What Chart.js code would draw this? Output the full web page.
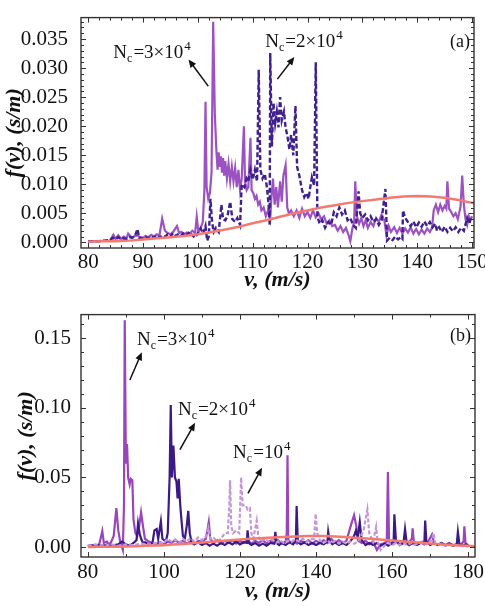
<!DOCTYPE html>
<html>
<head>
<meta charset="utf-8">
<script src="https://cdn.jsdelivr.net/npm/chart.js@4.4.1/dist/chart.umd.min.js"></script>
<style>
html, body { margin: 0; padding: 0; background: #fff; }
#wrap { position: relative; width: 485px; height: 606px; }
canvas { position: absolute; left: 0; }
</style>
</head>
<body>
<div id="wrap">
<canvas id="panelA" width="485" height="300" style="top:0"></canvas>
<canvas id="panelB" width="485" height="306" style="top:300px"></canvas>
</div>
<script>
// panel (a): [v, f(v)]
const topN3 = [
  [80,0.0002],[82,0.0002],[84,0.0003],[84.6,0.0013],[85,0.0006],[85.5,0.0012],[86,0.0006],[86.5,0.001],
  [87,0.0007],[87.3,0.0015],[88,0.0008],[88.5,0.0011],[89,0.0012],[89.5,0.0009],[90,0.0008],[90.5,0.0011],
  [91,0.0009],[91.5,0.0013],[92,0.001],[92.5,0.0014],[93,0.0012],[93.5,0.0041],[94,0.002],[94.5,0.0016],
  [95,0.0014],[95.5,0.0018],[96.2,0.0028],[96.6,0.0016],[97,0.0018],[97.5,0.0014],[98,0.0017],[98.5,0.0015],
  [99,0.002],[99.5,0.0016],[99.8,0.0044],[100.1,0.0018],[100.5,0.0024],[100.9,0.0035],[101.2,0.009],
  [101.4,0.0242],[101.6,0.0095],[101.9,0.0075],[102.2,0.0085],[102.5,0.012],[102.8,0.038],[103.1,0.022],
  [103.4,0.0155],[103.6,0.0125],[103.8,0.0155],[104,0.013],[104.2,0.0148],[104.4,0.012],[104.6,0.0145],
  [104.8,0.0115],[105,0.014],[105.3,0.011],[105.6,0.0135],[105.9,0.0105],[106.2,0.013],[106.5,0.0105],
  [106.8,0.0128],[107.1,0.0095],[107.4,0.0125],[107.7,0.009],[108,0.011],[108.4,0.02],[108.6,0.0105],
  [108.9,0.009],[109.2,0.0095],[109.6,0.018],[109.8,0.009],[110.1,0.0085],[110.4,0.0075],[110.7,0.008],
  [111,0.0065],[111.3,0.007],[111.6,0.0055],[112,0.006],[112.4,0.0045],[112.8,0.0055],[113.2,0.004],
  [113.4,0.0075],[113.7,0.011],[114,0.0065],[114.3,0.0095],[114.6,0.006],[115,0.0105],[115.3,0.007],
  [115.6,0.0115],[116,0.0133],[116.3,0.006],[116.6,0.005],[117,0.0055],[117.5,0.0045],[118,0.0055],
  [118.5,0.0042],[119,0.0058],[119.5,0.0045],[120,0.0052],[120.5,0.0042],[121,0.0055],[121.5,0.0043],
  [122,0.005],[122.5,0.004],[123,0.0045],[123.5,0.0032],[124,0.0038],[124.5,0.0028],[125,0.003],
  [125.5,0.002],[126,0.0028],[126.5,0.0018],[127,0.0025],[127.5,0.0012],[127.8,0.0002],[128.2,0.0025],
  [128.5,0.0035],[128.7,0.0105],[129,0.0045],[129.4,0.0032],[129.8,0.0042],[130.2,0.0028],[130.6,0.0038],
  [131,0.0025],[131.5,0.0035],[132,0.0028],[132.5,0.0042],[133,0.0035],[133.5,0.0048],[134,0.0038],
  [134.4,0.0012],[134.8,0.0028],[135.2,0.0018],[135.8,0.0026],[136.3,0.0016],[136.8,0.0025],[137.3,0.0015],
  [137.8,0.0024],[138.3,0.0017],[138.8,0.0026],[139.3,0.0015],[139.8,0.0023],[140.3,0.0014],[140.8,0.0022],
  [141.3,0.0015],[141.8,0.0024],[142.3,0.0018],[142.7,0.0025],[143,0.0055],[143.4,0.0065],[143.8,0.0052],
  [144.2,0.0065],[144.6,0.0055],[145,0.0063],[145.3,0.0058],[145.5,0.0105],[145.8,0.0058],[146.2,0.0052],
  [146.6,0.0045],[147,0.005],[147.4,0.004],[147.9,0.0062],[148.2,0.0115],[148.5,0.0065],[148.8,0.004],
  [149.1,0.003],[149.4,0.0045],[149.7,0.0038],[150,0.0045]
];

const topN2 = [
  [80,0.0001],[81,0.0002],[82,0.0002],[83,0.0003],[84,0.0004],[84.5,0.0008],[85,0.0005],[85.5,0.0009],
  [86,0.0005],[86.5,0.0007],[87,0.0006],[87.5,0.0009],[88,0.0008],[88.5,0.001],[89,0.0023],[89.3,0.0008],
  [90,0.0006],[90.5,0.0009],[91,0.0007],[91.5,0.0011],[92,0.0008],[92.5,0.0012],[93,0.0008],[93.5,0.0012],
  [94,0.001],[94.5,0.0014],[95,0.001],[95.5,0.0016],[96,0.0011],[96.5,0.0015],[97,0.0012],[97.5,0.0017],
  [98,0.0013],[98.5,0.0018],[99,0.0012],[99.5,0.0008],[100,0.0016],[100.5,0.0024],[101,0.0015],
  [101.4,0.0028],[101.7,0.0003],[102,0.001],[102.3,0.0075],[102.6,0.0035],[102.9,0.0018],[103.3,0.0025],
  [103.8,0.0018],[104.3,0.0065],[104.6,0.004],[105,0.0038],[105.4,0.0045],[105.9,0.007],[106.3,0.004],
  [106.8,0.0035],[107.2,0.0042],[107.7,0.003],[108,0.01],[108.5,0.0095],[108.9,0.011],[109.2,0.0105],
  [109.6,0.0125],[110,0.0108],[110.4,0.0125],[110.8,0.0105],[111.1,0.0297],[111.4,0.0125],[111.8,0.011],
  [112.2,0.0118],[112.6,0.0095],[112.9,0.0065],[113.1,0.003],[113.2,0.0326],[113.5,0.0165],[113.8,0.024],
  [114.1,0.0205],[114.4,0.0225],[114.7,0.0198],[115,0.025],[115.3,0.021],[115.7,0.0225],[116,0.0197],
  [116.3,0.0185],[116.7,0.016],[117,0.0185],[117.4,0.015],[117.8,0.0235],[118.1,0.013],[118.5,0.0115],
  [119,0.009],[119.4,0.0078],[119.8,0.0085],[120.2,0.0075],[120.5,0.0095],[120.8,0.0112],[121.2,0.0098],
  [121.5,0.031],[121.8,0.0045],[122.2,0.0032],[122.7,0.0038],[123.2,0.0025],[123.8,0.0035],[124.3,0.003],
  [124.8,0.0052],[125.3,0.0045],[125.8,0.006],[126.3,0.0048],[126.8,0.0055],[127.3,0.0038],[127.8,0.0042],
  [128.3,0.003],[128.8,0.0025],[129.3,0.0088],[129.6,0.005],[130,0.0042],[130.5,0.0048],[131,0.0038],
  [131.5,0.0045],[132,0.0035],[132.5,0.004],[133,0.003],[133.5,0.0038],[134.2,0.0092],[134.5,0.0003],
  [135,0.0008],[135.5,0.0004],[136,0.001],[136.5,0.0005],[137,0.0009],[137.3,0.0006],[137.4,0.0055],
  [137.8,0.0042],[138.3,0.0035],[138.8,0.0028],[139.3,0.0036],[139.8,0.0026],[140.3,0.0034],[140.8,0.0027],
  [141.3,0.0036],[141.8,0.0028],[142.3,0.0035],[142.8,0.0026],[143.3,0.0032],[143.6,0.002],[144,0.0026],
  [144.5,0.0018],[145,0.0027],[145.5,0.0018],[146,0.0025],[146.5,0.0019],[147,0.0026],[147.5,0.0018],
  [148,0.0025],[148.5,0.002],[149.1,0.0042],[149.5,0.0032],[149.8,0.0045]
];

// panel (b)
const botN3 = [
  [80,0.001],[81,0.0015],[82,0.0008],[83,0.002],[83.8,0.0115],[84.2,0.003],[85,0.004],[85.5,0.002],
  [86,0.003],[86.8,0.008],[87.5,0.028],[88,0.012],[88.5,0.004],[89.2,-0.002],[89.5,0.03],[89.7,0.163],
  [90,0.06],[90.3,0.074],[90.6,0.05],[91,0.045],[91.3,0.049],[91.7,0.048],[92,0.02],[92.5,0.01],[93,0.008],
  [93.5,0.015],[94,0.025],[94.5,0.015],[95,0.006],[96,0.004],[97,0.003],[98,0.002],[99,0.0035],[100,0.002],
  [101,0.004],[102,0.003],[103,0.005],[104,0.003],[105,0.0045],[106,0.0025],[107,0.004],[108,0.002],
  [109,0.0045],[110,0.004],[111,0.006],[111.5,0.013],[111.8,0.018],[112.2,0.006],[113,0.003],[114,0.005],
  [115,0.0025],[116,0.0045],[117,0.003],[118,0.005],[119,0.0025],[120,0.0045],[121,0.003],[122,0.005],
  [123,0.0025],[124,0.0045],[125,0.003],[126,0.005],[127,0.0025],[128,0.0045],[129,0.003],[130,0.005],
  [131,0.0025],[132,0.004],[132.3,0.01],[132.5,0.066],[132.7,0.005],[133.5,0.003],[134,0.0045],[135,0.0025],
  [136,0.0045],[137,0.003],[138,0.005],[139,0.0025],[140,0.0045],[141,0.003],[142,0.005],[143,0.003],
  [144,0.006],[145,0.003],[146,0.005],[147,0.003],[148,0.0045],[149.2,0.016],[150,0.023],[150.6,0.015],
  [151,0.005],[152,0.003],[153,0.0045],[154,0.002],[155,0.004],[156,-0.002],[157,0.002],[158,0.003],
  [158.6,0.004],[158.9,0.054],[159.2,0.003],[160,0.002],[161,0.004],[162,0.002],[163,0.0035],[164,0.002],
  [165.2,0.006],[165.4,0.0135],[165.7,0.004],[166.5,0.002],[167.5,0.0035],[168.5,0.002],[169.5,0.004],
  [170.5,0.009],[171,0.003],[172,0.0015],[173,0.003],[174,0.0015],[175,0.003],[176,0.0015],[177,0.002],
  [178,0.0015],[178.8,0.004],[179,0.015],[179.3,0.003],[180,0.001]
];

const botN2 = [
  [80,0.0005],[81,0.0012],[82,0.0008],[83,0.0015],[84,0.001],[85,0.0018],[86,0.001],[87,0.0015],[88,0.002],
  [89,0.004],[90,0.002],[91,0.001],[92,0.003],[92.8,0.005],[93.2,0.017],[93.6,0.01],[94,0.006],[94.5,0.003],
  [95,0.0035],[96,0.002],[97,0.003],[97.5,0.012],[98.1,0.013],[98.5,0.006],[99.2,0.0185],[99.6,0.006],
  [100.5,0.004],[101,0.01],[101.5,0.05],[101.8,0.102],[102.1,0.05],[102.5,0.073],[102.9,0.05],[103.3,0.047],
  [103.6,0.035],[103.9,0.049],[104.3,0.03],[104.6,0.02],[105,0.008],[105.5,0.006],[106,0.015],[106.4,0.026],
  [106.8,0.01],[107.3,0.003],[108,0.002],[109,0.0035],[110,0.0015],[111,0.003],[112,0.001],[113,0.0025],
  [114,0.001],[115,0.003],[116,0.0015],[117,0.0035],[118,0.002],[119,0.004],[120,0.002],[121,0.0035],
  [121.8,0.003],[122,0.012],[122.3,0.003],[123,0.0015],[124,0.003],[125,0.001],[126,0.0025],[127,0.001],
  [128,0.003],[129,0.0025],[129.3,0.011],[129.6,0.003],[130.3,0.0015],[131,0.003],[132,0.0015],[133,0.0035],
  [134,0.002],[134.7,0.005],[134.9,0.0295],[135.2,0.004],[136,0.002],[137,0.0035],[138,0.0015],[139,0.003],
  [140,0.0015],[141,0.003],[142,0.002],[143,0.004],[143.2,0.011],[143.6,0.004],[144.3,0.002],[145,0.0035],
  [146,0.0015],[147,0.003],[148,0.0015],[149,0.004],[150,0.008],[150.5,0.012],[151,0.007],[151.5,0.018],
  [152,0.005],[153,0.0015],[154,0.003],[155,0.0015],[156,0.003],[157,0.001],[158,0.0025],[159,0.001],
  [160.4,0.004],[160.6,0.0235],[161,0.005],[162,0.0015],[163,0.003],[163.4,0.013],[163.8,0.004],
  [164.5,0.0015],[165.5,0.003],[166.5,0.0015],[167.5,0.003],[168.5,0.004],[168.7,0.019],[169,0.004],
  [170,0.0015],[171,0.003],[172,0.0015],[173,0.003],[174,0.001],[175,0.0025],[176,0.001],[177,0.002],
  [177.3,0.011],[177.7,0.002],[178.5,0.001],[179.5,0.002],[180,0.001]
];

const botN1 = [
  [80,0.001],[82,0.002],[84,0.001],[86,0.002],[88,0.001],[90,0.002],[92,0.0015],[94,0.0025],[96,0.002],
  [98,0.003],[100,0.003],[101,0.006],[102,0.004],[103,0.0055],[104,0.003],[105,0.006],[106,0.004],
  [107,0.0065],[108,0.004],[109,0.007],[110,0.005],[111.2,0.008],[111.7,0.0135],[112.2,0.006],[113,0.007],
  [114,0.004],[115,0.006],[116,0.01],[116.8,0.01],[117.2,0.03],[117.4,0.048],[117.7,0.015],[118.2,0.01],
  [119,0.012],[119.8,0.01],[120.3,0.05],[120.7,0.03],[121.5,0.03],[122,0.027],[122.6,0.028],[123,0.01],
  [123.5,0.006],[124.4,0.019],[124.8,0.008],[125.5,0.004],[126.5,0.006],[127.5,0.004],[128.5,0.0055],
  [129.5,0.003],[130.5,0.005],[131.5,0.003],[132.5,0.0045],[133.5,0.0035],[134.5,0.0055],[135.5,0.004],
  [136.5,0.006],[137.5,0.0035],[138.5,0.0055],[139.5,0.006],[139.9,0.024],[140.3,0.01],[141,0.005],
  [142,0.003],[143,0.005],[144,0.0025],[145,0.0045],[146,0.0025],[147,0.004],[148,0.0025],[149,0.004],
  [150,0.0025],[151,0.004],[152.5,0.012],[153.5,0.027],[154,0.01],[155,0.004],[155.8,0.0145],[156.2,0.004],
  [157,-0.002],[158,0.001],[159,0.003],[160,0.0015],[161,0.003],[162,0.0015],[163,0.003],[164,0.0015],
  [165,0.003],[166,0.0015],[167,0.003],[168,0.004],[169,0.002],[170.5,0.005],[170.9,0.01],[171.3,0.003],
  [172,0.0015],[173,0.0025],[174,0.001],[175,0.002],[176,0.001],[177,0.0015],[178,0.0008],[180,0.0005]
];

// smooth reference curve, same in both panels
const curveV = [80,82.5,85,87.5,90,92.5,95,97.5,100,102.5,105,107.5,110,112.5,115,117.5,120,122.5,125,
  127.5,130,132.5,135,137.5,140,142.5,145,147.5,150,152.5,155,157.5,160,162.5,165,167.5,170,172.5,175,
  177.5,180,182.5];
const curveF = [0.0001,0.0002,0.0002,0.0003,0.0005,0.0007,0.0009,0.0011,0.0014,0.0018,0.0022,0.0027,
  0.0033,0.0038,0.0044,0.005,0.0055,0.006,0.0064,0.0068,0.0071,0.0074,0.0077,0.0079,0.008,0.0079,0.0077,
  0.0073,0.0068,0.0063,0.0058,0.0053,0.0048,0.0042,0.0037,0.0031,0.0026,0.0021,0.0016,0.0012,0.0009,0.0006];

// ticks
const ticksVA = [80, 90, 100, 110, 120, 130, 140, 150];
const ticksFA = [0, 0.005, 0.01, 0.015, 0.02, 0.025, 0.03, 0.035];
const labelsFA = ["0.000", "0.005", "0.010", "0.015", "0.020", "0.025", "0.030", "0.035"];
const ticksVB = [80, 100, 120, 140, 160, 180];
const ticksFB = [0, 0.05, 0.1, 0.15];
const labelsFB = ["0.00", "0.05", "0.10", "0.15"];

const serif = "'Liberation Serif', 'Times New Roman', serif";
const ink = "#111";

function toPoints(arr) {
    return arr.map(p => ({ x: p[0], y: p[1] }));
}

function lineSet(label, points, color, width, dash, order) {
    return {
        label,
        data: points,
        borderColor: color,
        borderWidth: width,
        borderDash: dash,
        pointRadius: 0,
        tension: 0,
        fill: false,
        order
    };
}

function drawNc(ctx, x, y, main) {
    // N_c = main ^4
    ctx.fillStyle = ink;
    ctx.textBaseline = "alphabetic";
    ctx.textAlign = "left";
    ctx.font = "19px " + serif;
    ctx.fillText("N", x, y);
    x += ctx.measureText("N").width;
    ctx.font = "12px " + serif;
    ctx.fillText("c", x, y + 4);
    x += ctx.measureText("c").width + 1;
    ctx.font = "19px " + serif;
    ctx.fillText(main, x, y);
    x += ctx.measureText(main).width + 1;
    ctx.font = "13px " + serif;
    ctx.fillText("4", x, y - 8);
}

function drawArrow(ctx, x1, y1, x2, y2) {
    const a = Math.atan2(y2 - y1, x2 - x1);
    ctx.strokeStyle = ink;
    ctx.fillStyle = ink;
    ctx.lineWidth = 1.5;
    ctx.beginPath();
    ctx.moveTo(x1, y1);
    ctx.lineTo(x2 - 5 * Math.cos(a), y2 - 5 * Math.sin(a));
    ctx.stroke();
    ctx.beginPath();
    ctx.moveTo(x2, y2);
    ctx.lineTo(x2 - 8 * Math.cos(a) + 3.5 * Math.sin(a), y2 - 8 * Math.sin(a) - 3.5 * Math.cos(a));
    ctx.lineTo(x2 - 8 * Math.cos(a) - 3.5 * Math.sin(a), y2 - 8 * Math.sin(a) + 3.5 * Math.cos(a));
    ctx.closePath();
    ctx.fill();
}

const framePlugin = {
    id: "frame",
    afterDatasetsDraw(chart, args, opts) {
        const ctx = chart.ctx;
        const area = chart.chartArea;
        const xs = chart.scales.x;
        const ys = chart.scales.y;
        ctx.save();

        // ticks on all four sides, pointing inward
        ctx.strokeStyle = "#333";
        ctx.lineWidth = 1;
        ctx.beginPath();
        for (let k = Math.ceil(xs.min / opts.xMinor); k * opts.xMinor <= xs.max; k++) {
            const v = k * opts.xMinor;
            const len = Math.abs(v / opts.xMajor - Math.round(v / opts.xMajor)) < 1e-6 ? 5 : 3;
            const px = Math.round(xs.getPixelForValue(v)) + 0.5;
            ctx.moveTo(px, area.bottom); ctx.lineTo(px, area.bottom - len);
            ctx.moveTo(px, area.top); ctx.lineTo(px, area.top + len);
        }
        for (let k = Math.ceil(ys.min / opts.yMinor); k * opts.yMinor <= ys.max; k++) {
            const v = k * opts.yMinor;
            const len = Math.abs(v / opts.yMajor - Math.round(v / opts.yMajor)) < 1e-6 ? 5 : 3;
            const py = Math.round(ys.getPixelForValue(v)) + 0.5;
            ctx.moveTo(area.left, py); ctx.lineTo(area.left + len, py);
            ctx.moveTo(area.right, py); ctx.lineTo(area.right - len, py);
        }
        ctx.stroke();

        ctx.lineWidth = 1.4;
        ctx.strokeRect(area.left, area.top, area.right - area.left, area.bottom - area.top);

        // panel label
        ctx.fillStyle = ink;
        ctx.font = "18px " + serif;
        ctx.textAlign = "right";
        ctx.textBaseline = "alphabetic";
        ctx.fillText(opts.panel, area.right - 4, area.top + opts.panelDy);

        opts.notes.forEach(n => {
            drawNc(ctx, xs.getPixelForValue(n.v), ys.getPixelForValue(n.f), n.main);
            drawArrow(ctx,
                xs.getPixelForValue(n.tail[0]), ys.getPixelForValue(n.tail[1]),
                xs.getPixelForValue(n.head[0]), ys.getPixelForValue(n.head[1]));
        });
        ctx.restore();
    }
};

function makePanel(id, cfg) {
    return new Chart(document.getElementById(id), {
        type: "line",
        data: { datasets: cfg.datasets },
        options: {
            responsive: false,
            animation: false,
            devicePixelRatio: 1,
            layout: { padding: cfg.padding },
            plugins: {
                legend: { display: false },
                tooltip: { enabled: false },
                frame: cfg.frame
            },
            scales: {
                x: {
                    type: "linear",
                    min: cfg.xMin,
                    max: cfg.xMax,
                    grid: { display: false },
                    border: { display: false },
                    afterBuildTicks: s => { s.ticks = cfg.xTicks.map(value => ({ value })); },
                    afterFit: s => { s.height = cfg.xHeight; },
                    ticks: {
                        padding: cfg.xTickPad,
                        color: ink,
                        autoSkip: false,
                        maxRotation: 0,
                        font: { family: serif, size: 21 },
                        callback: v => String(v)
                    },
                    title: {
                        display: true,
                        text: "v, (m/s)",
                        color: ink,
                        font: { family: serif, size: 22, style: "italic", weight: "bold" },
                        padding: { top: 0, bottom: cfg.xTitlePad }
                    }
                },
                y: {
                    type: "linear",
                    min: cfg.yMin,
                    max: cfg.yMax,
                    grid: { display: false },
                    border: { display: false },
                    afterBuildTicks: s => { s.ticks = cfg.yTicks.map(value => ({ value })); },
                    afterFit: s => { s.width = 81; },
                    ticks: {
                        padding: cfg.yTickPad,
                        color: ink,
                        autoSkip: false,
                        font: { family: serif, size: 21 },
                        callback: (v, i) => cfg.yLabels[i]
                    },
                    title: {
                        display: true,
                        text: "f(v), (s/m)",
                        color: ink,
                        font: { family: serif, size: 22, style: "italic", weight: "bold" },
                        padding: { top: cfg.yTitlePad, bottom: 0 }
                    }
                }
            }
        },
        plugins: [framePlugin]
    });
}

const curvePts = curveV.map((v, i) => ({ x: v, y: curveF[i] }));

makePanel("panelA", {
    padding: { top: 2, right: 11, bottom: 0, left: 0 },
    xMin: 78.7, xMax: 150.35, yMin: -0.00097, yMax: 0.0387,
    xTicks: ticksVA, yTicks: ticksFA, yLabels: labelsFA,
    xHeight: 52, xTickPad: -6, xTitlePad: 6, yTickPad: 5, yTitlePad: 1,
    datasets: [
        lineSet("Maxwell", curvePts, "#f47a70", 2.5, [], 0),
        lineSet("Nc=2e4", toPoints(topN2), "#40208f", 2.4, [5, 2.5], 1),
        lineSet("Nc=3e4", toPoints(topN3), "#9d52c2", 2.2, [], 2)
    ],
    frame: {
        xMinor: 2, xMajor: 10, yMinor: 0.001, yMajor: 0.005,
        panel: "(a)", panelDy: 29,
        notes: [
            { v: 84.6, f: 0.0318, main: "=3×10", tail: [101.9, 0.0269], head: [98.3, 0.0315] },
            { v: 112.3, f: 0.0337, main: "=2×10", tail: [114.5, 0.0281], head: [117.6, 0.0319] }
        ]
    }
});

makePanel("panelB", {
    padding: { top: 13, right: 10, bottom: 0, left: 0 },
    xMin: 78.2, xMax: 181.8, yMin: -0.0071, yMax: 0.167,
    xTicks: ticksVB, yTicks: ticksFB, yLabels: labelsFB,
    xHeight: 49, xTickPad: -5, xTitlePad: 1, yTickPad: 2, yTitlePad: 13,
    datasets: [
        lineSet("Maxwell", curvePts, "#f47a70", 2.5, [], 0),
        lineSet("Nc=1e4", toPoints(botN1), "#c497d8", 2.2, [4, 2], 1),
        lineSet("Nc=2e4", toPoints(botN2), "#3b1a88", 2.2, [], 2),
        lineSet("Nc=3e4", toPoints(botN3), "#9a45bb", 2.2, [], 3)
    ],
    frame: {
        xMinor: 10, xMajor: 20, yMinor: 0.01, yMajor: 0.05,
        panel: "(b)", panelDy: 26,
        notes: [
            { v: 92.9, f: 0.145, main: "=3×10", tail: [91.05, 0.12], head: [94.2, 0.14] },
            { v: 103.7, f: 0.095, main: "=2×10", tail: [104.2, 0.07], head: [108.2, 0.0893] },
            { v: 118.2, f: 0.0643, main: "=10", tail: [122.1, 0.0386], head: [125.8, 0.057] }
        ]
    }
});
</script>
</body>
</html>
